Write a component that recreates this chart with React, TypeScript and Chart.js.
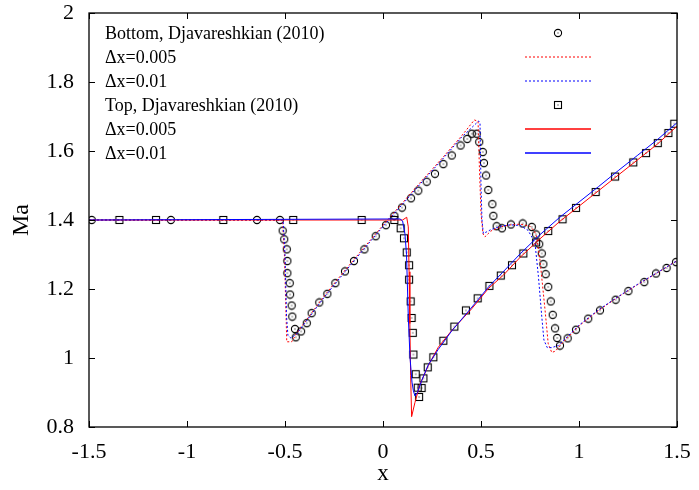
import React, { useEffect, useRef } from "react";
import { Chart, registerables } from "chart.js";

Chart.register(...registerables);

const X_TICKS = [-1.5, -1, -0.5, 0, 0.5, 1, 1.5];
const Y_TICKS = [0.8, 1, 1.2, 1.4, 1.6, 1.8, 2];
const X_TITLE = "x";
const Y_TITLE = "Ma";
const LEGEND_LABELS = [
  "Bottom, Djavareshkian (2010)",
  "Δx=0.005",
  "Δx=0.01",
  "Top, Djavareshkian (2010)",
  "Δx=0.005",
  "Δx=0.01",
];

type P = [number, number];

// Bottom wall, reference (circles)
const BOTTOM_REF: P[] = [
  [-1.486, 1.4], [-1.082, 1.4], [-0.643, 1.4], [-0.526, 1.4], [-0.512, 1.369],
  [-0.504, 1.344], [-0.491, 1.315], [-0.488, 1.281], [-0.488, 1.246], [-0.476, 1.217],
  [-0.474, 1.184], [-0.466, 1.152], [-0.463, 1.12], [-0.449, 1.084], [-0.445, 1.06],
  [-0.418, 1.077], [-0.389, 1.101], [-0.364, 1.13], [-0.325, 1.161], [-0.284, 1.186],
  [-0.243, 1.217], [-0.194, 1.251], [-0.148, 1.281], [-0.095, 1.315], [-0.037, 1.353],
  [0.015, 1.385], [0.058, 1.412], [0.097, 1.436], [0.143, 1.463], [0.18, 1.485],
  [0.223, 1.511], [0.265, 1.534], [0.308, 1.562], [0.351, 1.587], [0.396, 1.616],
  [0.43, 1.635], [0.453, 1.65], [0.478, 1.65], [0.491, 1.626], [0.509, 1.597],
  [0.515, 1.565], [0.526, 1.529], [0.537, 1.487], [0.558, 1.446], [0.563, 1.412],
  [0.58, 1.382], [0.607, 1.376], [0.653, 1.387], [0.713, 1.39], [0.759, 1.38],
  [0.781, 1.358], [0.797, 1.33], [0.81, 1.303], [0.818, 1.272], [0.83, 1.243],
  [0.843, 1.206], [0.856, 1.164], [0.866, 1.125], [0.878, 1.086], [0.889, 1.058],
  [0.903, 1.036], [0.942, 1.057], [0.985, 1.082], [1.047, 1.114], [1.107, 1.138],
  [1.187, 1.169], [1.252, 1.194], [1.333, 1.22], [1.393, 1.245], [1.447, 1.261],
  [1.495, 1.278],
];

// Bottom wall, dx = 0.005 (red dotted)
const BOTTOM_DX005: P[] = [
  [-1.5, 1.4], [-0.512, 1.4], [-0.503, 1.3], [-0.496, 1.15], [-0.491, 1.047],
  [-0.466, 1.047], [-0.44, 1.072], [-0.3, 1.18], [-0.2, 1.25], [-0.1, 1.318],
  [0, 1.385], [0.1, 1.45], [0.2, 1.515], [0.3, 1.578], [0.4, 1.643],
  [0.466, 1.69], [0.485, 1.686], [0.492, 1.55], [0.5, 1.42], [0.51, 1.36],
  [0.52, 1.351], [0.55, 1.368], [0.6, 1.38], [0.65, 1.386], [0.7, 1.388],
  [0.75, 1.382], [0.772, 1.368], [0.784, 1.351], [0.801, 1.283], [0.827, 1.138],
  [0.843, 1.041], [0.861, 1.016], [0.88, 1.02], [0.903, 1.036], [1, 1.093],
  [1.1, 1.138], [1.2, 1.177], [1.3, 1.213], [1.4, 1.247], [1.5, 1.282],
];

// Bottom wall, dx = 0.01 (blue dotted)
const BOTTOM_DX01: P[] = [
  [-1.5, 1.4], [-0.51, 1.4], [-0.5, 1.3], [-0.492, 1.12], [-0.485, 1.065],
  [-0.47, 1.058], [-0.44, 1.07], [-0.3, 1.176], [-0.2, 1.246], [-0.1, 1.314],
  [0, 1.381], [0.1, 1.446], [0.2, 1.511], [0.3, 1.574], [0.4, 1.639],
  [0.488, 1.687], [0.495, 1.68], [0.5, 1.5], [0.505, 1.4], [0.512, 1.361],
  [0.53, 1.366], [0.55, 1.372], [0.6, 1.382], [0.65, 1.386], [0.7, 1.384],
  [0.74, 1.37], [0.765, 1.345], [0.776, 1.33], [0.793, 1.236], [0.81, 1.12],
  [0.821, 1.052], [0.838, 1.03], [0.86, 1.03], [0.894, 1.036], [1, 1.095],
  [1.1, 1.14], [1.2, 1.178], [1.3, 1.214], [1.4, 1.248], [1.5, 1.282],
];

// Top wall, reference (squares)
const TOP_REF: P[] = [
  [-1.345, 1.4], [-1.158, 1.4], [-0.815, 1.4], [-0.458, 1.4], [-0.109, 1.4],
  [0.058, 1.4], [0.09, 1.376], [0.107, 1.347], [0.121, 1.306], [0.133, 1.269],
  [0.133, 1.227], [0.141, 1.164], [0.146, 1.116], [0.152, 1.073], [0.155, 1.01],
  [0.167, 0.953], [0.177, 0.914], [0.184, 0.887], [0.197, 0.913], [0.206, 0.941],
  [0.228, 0.973], [0.257, 1.002], [0.308, 1.05], [0.364, 1.091], [0.423, 1.138],
  [0.483, 1.173], [0.543, 1.209], [0.601, 1.239], [0.658, 1.269], [0.716, 1.303],
  [0.781, 1.335], [0.843, 1.368], [0.916, 1.402], [0.985, 1.435], [1.085, 1.481],
  [1.184, 1.526], [1.277, 1.567], [1.342, 1.594], [1.402, 1.623], [1.456, 1.652],
  [1.486, 1.679],
];

// Top wall, dx = 0.005 (red solid)
const TOP_DX005: P[] = [
  [-1.5, 1.4], [0.1, 1.4], [0.121, 1.408], [0.129, 1.38], [0.133, 1.25],
  [0.137, 1.1], [0.141, 0.95], [0.146, 0.83], [0.163, 0.871], [0.189, 0.924],
  [0.231, 0.978], [0.282, 1.031], [0.351, 1.08], [0.453, 1.143], [0.537, 1.201],
  [0.614, 1.24], [0.7, 1.292], [0.8, 1.345], [0.9, 1.395], [1, 1.44],
  [1.1, 1.485], [1.2, 1.53], [1.3, 1.575], [1.4, 1.62], [1.5, 1.672],
];

// Top wall, dx = 0.01 (blue solid)
const TOP_DX01: P[] = [
  [-1.5, 1.4], [0.087, 1.403], [0.1, 1.397], [0.112, 1.36], [0.12, 1.3],
  [0.129, 1.12], [0.138, 1.0], [0.148, 0.93], [0.155, 0.905], [0.163, 0.89],
  [0.176, 0.9], [0.197, 0.934], [0.231, 0.98], [0.282, 1.025], [0.35, 1.078],
  [0.45, 1.145], [0.54, 1.207], [0.61, 1.248], [0.7, 1.302], [0.8, 1.357],
  [0.9, 1.407], [1, 1.452], [1.1, 1.497], [1.2, 1.543], [1.3, 1.588],
  [1.4, 1.633], [1.5, 1.682],
];

const SERIF = '"Liberation Serif", "Times New Roman", "DejaVu Serif", serif';
const RED = "#ff0000";
const BLUE = "#0000ff";

function makeMarker(kind: "circle" | "square"): HTMLCanvasElement {
  const c = document.createElement("canvas");
  c.width = 10;
  c.height = 10;
  const g = c.getContext("2d")!;
  g.strokeStyle = "#000";
  g.lineWidth = 1.1;
  if (kind === "circle") {
    g.beginPath();
    g.arc(5, 5, 3.6, 0, Math.PI * 2);
    g.stroke();
  } else {
    g.strokeRect(1.5, 1.5, 7, 7);
  }
  g.fillStyle = "#000";
  g.fillRect(4.5, 4.5, 1, 1);
  return c;
}

const toXY = (arr: P[]) => arr.map(([x, y]) => ({ x, y }));

const zeroPad = (s: any) => {
  s.paddingTop = 0;
  s.paddingBottom = 0;
  s.paddingLeft = 0;
  s.paddingRight = 0;
};

export default function App() {
  const ref = useRef<HTMLCanvasElement | null>(null);

  useEffect(() => {
    if (!ref.current) return;
    const circle = makeMarker("circle");
    const square = makeMarker("square");

    type Entry = { kind: "marker" | "line"; marker?: HTMLCanvasElement; color?: string; dotted?: boolean };
    const legendEntries: Entry[] = [
      { kind: "marker", marker: circle },
      { kind: "line", color: RED, dotted: true },
      { kind: "line", color: BLUE, dotted: true },
      { kind: "marker", marker: square },
      { kind: "line", color: RED, dotted: false },
      { kind: "line", color: BLUE, dotted: false },
    ];

    const framePlugin = {
      id: "frameAndLegend",
      afterDatasetsDraw(chart: any) {
        const { ctx, chartArea } = chart;
        const { left, right, top, bottom } = chartArea;
        const xs = chart.scales.x;
        const ys = chart.scales.y;
        ctx.save();
        ctx.setLineDash([]);
        ctx.globalAlpha = 1;
        ctx.strokeStyle = "#000";
        ctx.lineWidth = 1;
        ctx.beginPath();
        const tl = 6;
        X_TICKS.forEach((v) => {
          const px = Math.round(xs.getPixelForValue(v)) + 0.5;
          ctx.moveTo(px, bottom);
          ctx.lineTo(px, bottom - tl);
          ctx.moveTo(px, top);
          ctx.lineTo(px, top + tl);
        });
        Y_TICKS.forEach((v) => {
          const py = Math.round(ys.getPixelForValue(v)) + 0.5;
          ctx.moveTo(left, py);
          ctx.lineTo(left + tl, py);
          ctx.moveTo(right, py);
          ctx.lineTo(right - tl, py);
        });
        ctx.stroke();
        ctx.lineWidth = 1.3;
        ctx.strokeRect(left, top, right - left, bottom - top);

        // legend (gnuplot style)
        ctx.font = `18px ${SERIF}`;
        ctx.textAlign = "left";
        ctx.textBaseline = "alphabetic";
        const textX = left + 16;
        const sampleL = Math.round(left + 436);
        const sampleR = Math.round(left + 502);
        LEGEND_LABELS.forEach((label, i) => {
          const base = top + 25.5 + i * 24;
          ctx.fillStyle = "#000";
          ctx.fillText(label, textX, base);
          const cy = Math.round(base - 6);
          const e = legendEntries[i];
          if (e.kind === "marker" && e.marker) {
            const mx = (sampleL + sampleR) / 2;
            ctx.drawImage(e.marker, Math.round(mx) - 5, cy - 5);
          } else {
            ctx.save();
            ctx.strokeStyle = e.color!;
            ctx.lineWidth = e.dotted ? 1.2 : 1.6;
            ctx.setLineDash(e.dotted ? [2, 2] : []);
            ctx.beginPath();
            ctx.moveTo(sampleL, cy);
            ctx.lineTo(sampleR, cy);
            ctx.stroke();
            ctx.restore();
          }
        });
        ctx.restore();
      },
    };

    const lineDs = (label: string, data: P[], color: string, dash: number[], order: number) => ({
      label,
      data: toXY(data),
      showLine: true,
      borderColor: color,
      backgroundColor: color,
      borderWidth: 1,
      borderDash: dash,
      pointRadius: 0,
      pointHoverRadius: 0,
      tension: 0,
      order,
    });
    const markerDs = (label: string, data: P[], marker: HTMLCanvasElement, order: number) => ({
      label,
      data: toXY(data),
      showLine: false,
      pointStyle: marker,
      pointRadius: 4,
      borderColor: "#000",
      backgroundColor: "#000",
      order,
    });

    const chart = new Chart(ref.current, {
      type: "scatter",
      data: {
        datasets: [
          markerDs(LEGEND_LABELS[0], BOTTOM_REF, circle, 6),
          lineDs(LEGEND_LABELS[1], BOTTOM_DX005, RED, [2, 2], 5),
          lineDs(LEGEND_LABELS[2], BOTTOM_DX01, BLUE, [2, 2], 4),
          markerDs(LEGEND_LABELS[3], TOP_REF, square, 3),
          lineDs(LEGEND_LABELS[4], TOP_DX005, RED, [], 2),
          lineDs(LEGEND_LABELS[5], TOP_DX01, BLUE, [], 1),
        ] as any,
      },
      options: {
        animation: false,
        responsive: false,
        maintainAspectRatio: false,
        devicePixelRatio: 1,
        events: [],
        layout: { padding: { left: 0, right: 22, top: 13, bottom: 0 } },
        plugins: {
          legend: { display: false },
          tooltip: { enabled: false },
          title: { display: false },
        },
        scales: {
          x: {
            type: "linear",
            min: -1.5,
            max: 1.5,
            afterBuildTicks: (s: any) => {
              s.ticks = X_TICKS.map((v) => ({ value: v }));
            },
            afterFit: (s: any) => {
              s.height = 63;
              zeroPad(s);
            },
            grid: { display: false, drawTicks: false },
            border: { display: false },
            ticks: {
              color: "#000",
              font: { family: SERIF, size: 22 },
              padding: 12,
              maxRotation: 0,
              autoSkip: false,
              callback: (v: any) => String(v),
            },
            title: {
              display: true,
              text: X_TITLE,
              color: "#000",
              font: { family: SERIF, size: 23, lineHeight: 1 },
              padding: { top: 0, bottom: 5 },
            },
          },
          y: {
            type: "linear",
            min: 0.8,
            max: 2,
            afterBuildTicks: (s: any) => {
              s.ticks = Y_TICKS.map((v) => ({ value: v }));
            },
            afterFit: (s: any) => {
              s.width = 89;
              zeroPad(s);
            },
            grid: { display: false, drawTicks: false },
            border: { display: false },
            ticks: {
              color: "#000",
              font: { family: SERIF, size: 22 },
              padding: 15,
              autoSkip: false,
              callback: (v: any) => String(v),
            },
            title: {
              display: true,
              text: Y_TITLE,
              color: "#000",
              font: { family: SERIF, size: 24, lineHeight: 1 },
              padding: { top: 10, bottom: 0 },
            },
          },
        },
      } as any,
      plugins: [framePlugin],
    });
    return () => chart.destroy();
  }, []);

  return (
    <div style={{ position: "fixed", left: 0, top: 0, width: 699, height: 490, background: "#fff" }}>
      <canvas ref={ref} width={699} height={490} style={{ width: 699, height: 490, display: "block" }} />
    </div>
  );
}
